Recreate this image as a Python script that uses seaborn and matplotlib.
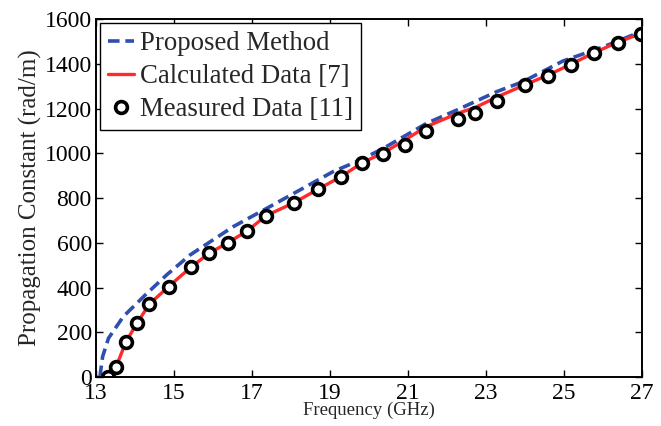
import numpy as np
import pandas as pd
import seaborn as sns
import matplotlib
matplotlib.use("Agg")
import matplotlib.pyplot as plt

# frequency in GHz, propagation constant in rad/m
prop_freq = [13.10, 13.17, 13.32, 13.70, 14.26, 14.81, 15.41, 15.67, 16.52, 17.38,
             18.23, 19.08, 19.77, 20.37, 21.48, 22.25, 23.27, 23.95, 24.97, 26.0, 27.0]
prop_beta = [0, 91, 173, 270, 366, 456, 545, 575, 672, 754,
             836, 918, 969, 1022, 1134, 1193, 1275, 1320, 1412, 1475, 1545]

calc_freq = [13.0, 13.3, 13.51, 13.77, 14.06, 14.37, 14.86, 15.43, 15.90, 16.38, 16.88,
             17.36, 18.08, 18.70, 19.28, 19.83, 20.37, 20.93, 21.46, 22.27, 22.73,
             23.29, 24.0, 24.6, 25.18, 25.78, 26.39, 26.97]
calc_beta = [0, 0, 43, 158, 243, 326, 404, 490, 553, 600, 653,
             721, 779, 840, 895, 958, 1002, 1060, 1118, 1178, 1205,
             1252, 1306, 1350, 1398, 1450, 1497, 1535]

meas_freq = [13.32, 13.51, 13.77, 14.06, 14.37, 14.86, 15.43, 15.90, 16.38, 16.88,
             17.36, 18.08, 18.70, 19.28, 19.83, 20.37, 20.93, 21.46, 22.27, 22.73,
             23.29, 24.0, 24.6, 25.18, 25.78, 26.39, 26.97]
meas_beta = [0, 43, 158, 243, 326, 404, 490, 553, 600, 653,
             721, 779, 840, 895, 958, 998, 1035, 1101, 1154, 1181,
             1234, 1304, 1345, 1394, 1447, 1494, 1532]

x_ticks = [13, 15, 17, 19, 21, 23, 25, 27]
y_ticks = [0, 200, 400, 600, 800, 1000, 1200, 1400, 1600]

sns.set_style("ticks")
plt.rcParams['font.family'] = ['Liberation Serif', 'DejaVu Serif']

fig = plt.figure(figsize=(6.61, 4.26), dpi=100)
ax = fig.add_axes([0.1452, 0.115, 0.8261, 0.8404])

df_prop = pd.DataFrame({'f': prop_freq, 'b': prop_beta})
df_calc = pd.DataFrame({'f': calc_freq, 'b': calc_beta})

sns.lineplot(data=df_prop, x='f', y='b', ax=ax, color='#2f4fb0', lw=2.6,
             linestyle=(0, (3.2, 1.6)), sort=False, estimator=None,
             label='Proposed Method')
sns.lineplot(data=df_calc, x='f', y='b', ax=ax, color='#ff2a2a', lw=2.4,
             sort=False, estimator=None, label='Calculated Data [7]')
ax.plot(meas_freq, meas_beta, linestyle='none', marker='o', ms=8.5,
        mfc='white', mec='black', mew=2.6, label='Measured Data [11]')

ax.set_xlim(13, 27)
ax.set_ylim(0, 1600)
ax.set_xticks(x_ticks)
ax.set_yticks(y_ticks)
ax.tick_params(direction='in', length=5, width=1, top=True, right=True,
               labelsize=17, colors='black')
ax.tick_params(axis='x', pad=4)
ax.tick_params(axis='y', pad=3)
for s in ax.spines.values():
    s.set_linewidth(1.4)
    s.set_color('black')

ax.set_xlabel('Frequency (GHz)', fontsize=13.5, labelpad=-1)
ax.set_ylabel('Propagation Constant (rad/m)', fontsize=18, labelpad=2)

leg = ax.legend(loc='upper left', fontsize=19.3, frameon=True, fancybox=False,
                edgecolor='black', framealpha=1, borderaxespad=0.15,
                handlelength=0.95, handletextpad=0.25, labelspacing=0.3,
                borderpad=0.3)
leg.get_frame().set_linewidth(1.0)

fig.savefig('out.png', dpi=100)
